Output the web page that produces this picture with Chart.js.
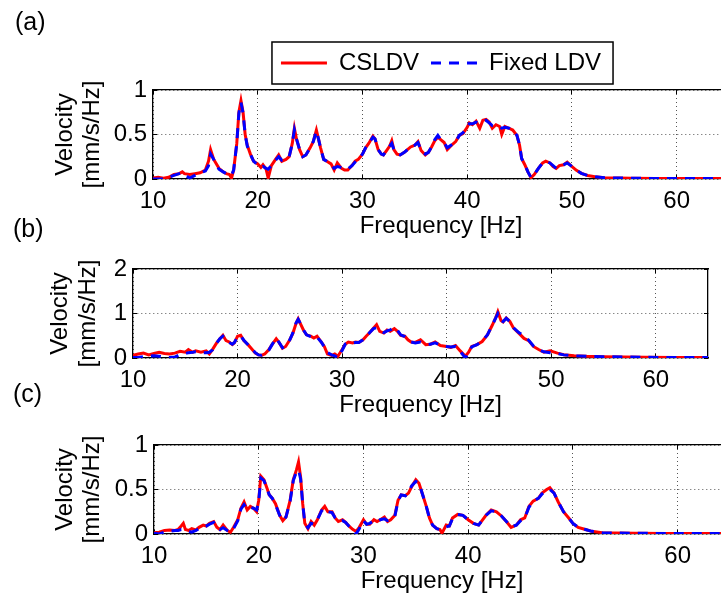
<!DOCTYPE html>
<html>
<head>
<meta charset="utf-8">
<script src="https://cdn.jsdelivr.net/npm/chart.js@4.4.1/dist/chart.umd.min.js"></script>
<style>
  html, body { margin: 0; padding: 0; background: #fff; }
  body { width: 721px; height: 601px; overflow: hidden; position: relative; font-family: 'Liberation Sans', Arial, sans-serif; }
  canvas { position: absolute; left: 0; }
  .tag { position: absolute; font-size: 25px; line-height: 1; color: #000; }
</style>
</head>
<body>
<canvas id="chartA" width="730" height="245" style="top:0px"></canvas>
<canvas id="chartB" width="710" height="185" style="top:240px"></canvas>
<canvas id="chartC" width="731" height="185" style="top:416px"></canvas>
<div class="tag" style="left:15px; top:9px">(a)</div>
<div class="tag" style="left:13px; top:216px">(b)</div>
<div class="tag" style="left:13px; top:381px">(c)</div>
<script>
const FONT = "'Liberation Sans', Arial, Helvetica, sans-serif";
const seriesNames = ['CSLDV', 'Fixed LDV'];
const yTitleLines = ['Velocity', '[mm/s/Hz]'];

// (a)
const freqA = [
    10, 10.5, 11, 11.5, 12, 12.5, 12.8, 13, 13.5, 14,
    14.5, 15, 15.3, 15.5, 15.8, 16, 16.3, 16.7, 17, 17.3,
    17.5, 17.7, 18, 18.2, 18.4, 18.6, 18.8, 19, 19.3, 19.6,
    20, 20.3, 20.5, 20.8, 21, 21.3, 21.7, 22, 22.3, 22.7,
    23, 23.3, 23.5, 23.7, 24, 24.3, 24.6, 25, 25.3, 25.6,
    25.8, 26, 26.3, 26.6, 27, 27.3, 27.6, 28, 28.3, 28.6,
    29, 29.3, 29.6, 30, 30.3, 30.6, 31, 31.2, 31.5, 31.8,
    32, 32.3, 32.6, 32.8, 33, 33.3, 33.6, 34, 34.3, 34.6,
    35, 35.3, 35.6, 36, 36.3, 36.6, 36.9, 37.2, 37.5, 37.8,
    38.1, 38.6, 38.9, 39.25, 39.6, 40, 40.2, 40.5, 40.85, 41.2,
    41.5, 41.8, 42.1, 42.4, 42.75, 43.1, 43.3, 43.6, 44, 44.35,
    44.75, 45, 45.2, 45.5, 45.8, 46.1, 46.4, 46.8, 47.2, 47.5,
    47.9, 48.2, 48.5, 48.8, 49.2, 49.55, 49.9, 50.4, 50.9, 51.5,
    52.2, 53.1, 54.4, 55.7, 58, 61, 65
];
const csldvA = [
    0.01, 0.02, 0.01, 0.02, 0.05, 0.06, 0.08, 0.06, 0.05, 0.06,
    0.07, 0.10, 0.20, 0.33, 0.22, 0.18, 0.12, 0.08, 0.06, 0.05,
    0.01, 0.10, 0.40, 0.75, 0.88, 0.75, 0.50, 0.38, 0.28, 0.20,
    0.17, 0.13, 0.16, 0.11, 0.01, 0.15, 0.22, 0.27, 0.20, 0.22,
    0.25, 0.40, 0.57, 0.45, 0.33, 0.25, 0.27, 0.35, 0.42, 0.55,
    0.45, 0.35, 0.22, 0.20, 0.17, 0.10, 0.18, 0.12, 0.10, 0.10,
    0.15, 0.20, 0.22, 0.28, 0.35, 0.40, 0.48, 0.45, 0.33, 0.28,
    0.27, 0.32, 0.37, 0.43, 0.33, 0.28, 0.27, 0.30, 0.33, 0.36,
    0.38, 0.42, 0.32, 0.27, 0.30, 0.36, 0.43, 0.47, 0.44, 0.41,
    0.33, 0.39, 0.42, 0.49, 0.51, 0.58, 0.63, 0.61, 0.65, 0.57,
    0.66, 0.67, 0.64, 0.57, 0.61, 0.59, 0.50, 0.59, 0.57, 0.55,
    0.49, 0.38, 0.23, 0.16, 0.08, 0.015, 0.05, 0.12, 0.18, 0.20,
    0.18, 0.14, 0.12, 0.15, 0.16, 0.19, 0.15, 0.10, 0.064, 0.04,
    0.026, 0.015, 0.011, 0.008, 0.006, 0.005, 0.005
];
const fixedA = [
    0.00, 0.00, 0.00, 0.02, 0.04, 0.06, 0.07, 0.05, 0.01, 0.04,
    0.07, 0.09, 0.15, 0.28, 0.22, 0.17, 0.11, 0.08, 0.06, 0.05,
    0.04, 0.10, 0.40, 0.74, 0.86, 0.74, 0.50, 0.37, 0.28, 0.20,
    0.16, 0.13, 0.14, 0.12, 0.11, 0.15, 0.21, 0.25, 0.21, 0.22,
    0.25, 0.40, 0.55, 0.45, 0.33, 0.25, 0.27, 0.35, 0.42, 0.54,
    0.45, 0.35, 0.22, 0.20, 0.16, 0.12, 0.14, 0.13, 0.11, 0.11,
    0.15, 0.19, 0.22, 0.28, 0.35, 0.40, 0.47, 0.45, 0.33, 0.28,
    0.27, 0.32, 0.37, 0.40, 0.33, 0.28, 0.27, 0.30, 0.33, 0.37,
    0.38, 0.41, 0.32, 0.28, 0.30, 0.36, 0.44, 0.49, 0.44, 0.41,
    0.35, 0.39, 0.42, 0.49, 0.52, 0.58, 0.62, 0.62, 0.64, 0.63,
    0.65, 0.66, 0.63, 0.60, 0.60, 0.58, 0.57, 0.58, 0.57, 0.55,
    0.49, 0.38, 0.23, 0.16, 0.08, 0.015, 0.05, 0.12, 0.18, 0.20,
    0.18, 0.15, 0.12, 0.14, 0.16, 0.18, 0.15, 0.10, 0.064, 0.04,
    0.026, 0.015, 0.011, 0.008, 0.006, 0.005, 0.005
];

// (b)
const freqB = [
    10, 10.5, 11, 11.5, 12, 12.5, 13, 13.5, 14, 14.5,
    15, 15.3, 15.7, 16, 16.5, 17, 17.3, 17.6, 18, 18.3,
    18.6, 18.9, 19.2, 19.5, 19.7, 20, 20.3, 20.6, 21, 21.3,
    21.7, 22, 22.3, 22.6, 23, 23.3, 23.7, 24, 24.3, 24.6,
    25, 25.3, 25.6, 25.8, 26, 26.3, 26.6, 27, 27.3, 27.6,
    28, 28.3, 28.6, 29, 29.3, 29.6, 30, 30.3, 30.6, 31,
    31.3, 31.6, 32, 32.3, 32.6, 33, 33.3, 33.6, 34, 34.3,
    34.6, 35, 35.3, 35.6, 36, 36.3, 36.6, 37, 37.5, 38,
    38.45, 38.9, 39.4, 40, 40.4, 40.85, 41.3, 41.8, 42.1, 42.4,
    42.9, 43.4, 43.9, 44.35, 44.7, 44.9, 45.2, 45.4, 45.7, 46.05,
    46.4, 46.9, 47.4, 47.85, 48.3, 48.8, 49.3, 49.9, 50.6, 51.2,
    52.2, 53.4, 55, 57, 59, 62, 65
];
const csldvB = [
    0.06, 0.09, 0.11, 0.07, 0.10, 0.13, 0.10, 0.09, 0.11, 0.15,
    0.13, 0.19, 0.13, 0.16, 0.13, 0.16, 0.09, 0.19, 0.34, 0.43,
    0.51, 0.39, 0.36, 0.30, 0.34, 0.49, 0.51, 0.39, 0.30, 0.22,
    0.11, 0.07, 0.06, 0.09, 0.19, 0.30, 0.43, 0.34, 0.22, 0.26,
    0.41, 0.56, 0.78, 0.88, 0.78, 0.63, 0.52, 0.49, 0.45, 0.49,
    0.36, 0.26, 0.09, 0.06, 0.09, 0.04, 0.19, 0.31, 0.36, 0.34,
    0.36, 0.35, 0.41, 0.49, 0.56, 0.67, 0.75, 0.60, 0.56, 0.63,
    0.60, 0.66, 0.60, 0.51, 0.49, 0.41, 0.36, 0.35, 0.41, 0.30,
    0.31, 0.36, 0.28, 0.26, 0.24, 0.28, 0.16, 0.04, 0.13, 0.26,
    0.30, 0.37, 0.52, 0.73, 0.91, 1.04, 0.84, 0.81, 0.90, 0.82,
    0.67, 0.56, 0.44, 0.39, 0.26, 0.19, 0.13, 0.16, 0.11, 0.075,
    0.05, 0.037, 0.03, 0.022, 0.015, 0.01, 0.01
];
const fixedB = [
    0.01, 0.01, 0.03, 0.04, 0.05, 0.04, 0.02, 0.01, 0.02, 0.08,
    0.10, 0.12, 0.13, 0.14, 0.12, 0.12, 0.13, 0.18, 0.33, 0.43,
    0.49, 0.39, 0.35, 0.31, 0.35, 0.48, 0.50, 0.40, 0.30, 0.22,
    0.12, 0.07, 0.06, 0.09, 0.18, 0.30, 0.45, 0.34, 0.23, 0.27,
    0.41, 0.57, 0.79, 0.87, 0.78, 0.63, 0.52, 0.48, 0.45, 0.47,
    0.36, 0.25, 0.12, 0.07, 0.05, 0.00, 0.17, 0.31, 0.35, 0.34,
    0.35, 0.35, 0.41, 0.48, 0.56, 0.66, 0.68, 0.62, 0.57, 0.61,
    0.63, 0.69, 0.62, 0.52, 0.48, 0.42, 0.36, 0.34, 0.36, 0.31,
    0.31, 0.34, 0.29, 0.26, 0.25, 0.26, 0.15, 0.00, 0.12, 0.25,
    0.30, 0.38, 0.52, 0.73, 0.90, 1.00, 0.85, 0.82, 0.89, 0.82,
    0.68, 0.57, 0.50, 0.40, 0.27, 0.19, 0.14, 0.12, 0.10, 0.07,
    0.05, 0.037, 0.03, 0.022, 0.015, 0.01, 0.01
];

// (c)
const freqC = [
    10, 10.5, 11, 11.5, 12, 12.3, 12.6, 12.8, 13, 13.3,
    13.6, 14, 14.3, 14.7, 15, 15.3, 15.7, 16, 16.3, 16.6,
    17, 17.3, 17.6, 18, 18.3, 18.6, 18.9, 19.2, 19.5, 19.8,
    20, 20.2, 20.5, 20.8, 21, 21.3, 21.6, 22, 22.3, 22.6,
    23, 23.3, 23.6, 23.8, 24, 24.2, 24.4, 24.7, 25, 25.3,
    25.6, 26, 26.3, 26.6, 27, 27.3, 27.6, 28, 28.3, 28.6,
    29, 29.3, 29.6, 30, 30.3, 30.6, 31, 31.3, 31.6, 32,
    32.3, 32.6, 33, 33.3, 33.6, 34, 34.3, 34.6, 35, 35.3,
    35.6, 36, 36.3, 36.6, 37, 37.3, 37.5, 37.9, 38.2, 38.5,
    39, 39.5, 40, 40.5, 41, 41.25, 41.7, 42.2, 42.7, 43.2,
    43.65, 44.1, 44.6, 45, 45.4, 45.8, 46.2, 46.7, 47.05, 47.5,
    47.8, 48.2, 48.6, 49.1, 49.6, 50, 50.5, 51.2, 51.8, 52.8,
    54, 56, 59, 62, 65
];
const csldvC = [
    0.015, 0.02, 0.04, 0.045, 0.04, 0.05, 0.09, 0.12, 0.05, 0.04,
    0.06, 0.045, 0.075, 0.10, 0.09, 0.12, 0.14, 0.075, 0.05, 0.10,
    0.04, 0.02, 0.075, 0.16, 0.29, 0.36, 0.27, 0.31, 0.29, 0.25,
    0.38, 0.65, 0.61, 0.51, 0.44, 0.40, 0.34, 0.21, 0.15, 0.19,
    0.38, 0.61, 0.72, 0.81, 0.64, 0.34, 0.12, 0.06, 0.14, 0.10,
    0.16, 0.27, 0.31, 0.25, 0.25, 0.18, 0.14, 0.16, 0.13, 0.09,
    0.05, 0.03, 0.075, 0.16, 0.11, 0.11, 0.16, 0.14, 0.16, 0.19,
    0.14, 0.16, 0.21, 0.38, 0.44, 0.43, 0.46, 0.53, 0.61, 0.57,
    0.46, 0.31, 0.18, 0.10, 0.06, 0.05, 0.01, 0.10, 0.09, 0.18,
    0.22, 0.21, 0.16, 0.12, 0.10, 0.14, 0.21, 0.27, 0.25, 0.20,
    0.14, 0.075, 0.10, 0.16, 0.18, 0.31, 0.37, 0.40, 0.46, 0.50,
    0.52, 0.46, 0.36, 0.25, 0.18, 0.12, 0.075, 0.05, 0.03, 0.015,
    0.011, 0.008, 0.006, 0.005, 0.005
];
const fixedC = [
    0.01, 0.00, 0.02, 0.03, 0.04, 0.04, 0.05, 0.05, 0.04, 0.03,
    0.02, 0.04, 0.06, 0.08, 0.09, 0.11, 0.13, 0.08, 0.05, 0.07,
    0.04, 0.02, 0.06, 0.15, 0.28, 0.33, 0.28, 0.30, 0.29, 0.27,
    0.37, 0.63, 0.60, 0.51, 0.44, 0.40, 0.33, 0.21, 0.15, 0.19,
    0.37, 0.60, 0.70, 0.72, 0.62, 0.34, 0.12, 0.07, 0.12, 0.11,
    0.16, 0.26, 0.29, 0.25, 0.24, 0.18, 0.14, 0.15, 0.13, 0.09,
    0.05, 0.00, 0.06, 0.15, 0.11, 0.12, 0.15, 0.14, 0.16, 0.17,
    0.15, 0.16, 0.20, 0.37, 0.44, 0.43, 0.47, 0.54, 0.59, 0.57,
    0.46, 0.31, 0.18, 0.10, 0.06, 0.05, 0.05, 0.08, 0.09, 0.17,
    0.22, 0.21, 0.16, 0.12, 0.10, 0.14, 0.21, 0.26, 0.25, 0.20,
    0.14, 0.08, 0.10, 0.15, 0.18, 0.30, 0.37, 0.40, 0.45, 0.49,
    0.50, 0.46, 0.36, 0.25, 0.18, 0.12, 0.075, 0.05, 0.03, 0.015,
    0.011, 0.008, 0.006, 0.005, 0.005
];

const xRange = [10, 65];
const xStep = 10;

// box round the legend, like the matlab one
const legendBox = {
    id: 'legendBox',
    afterDraw(chart) {
        const lg = chart.legend;
        if (!lg || !lg.options.display || !lg.legendHitBoxes.length) return;
        const hb = lg.legendHitBoxes;
        const last = hb[hb.length - 1];
        const left = hb[0].left - 9;
        const right = last.left + last.width + 12;
        const mid = hb[0].top + hb[0].height / 2;
        const ctx = chart.ctx;
        ctx.save();
        ctx.strokeStyle = '#000';
        ctx.lineWidth = 1.5;
        ctx.strokeRect(left, mid - 21, right - left, 42);
        ctx.restore();
    }
};

// two line y label; chart.js squeezes it to the axis height, so draw it here
const yTitle = {
    id: 'yTitle',
    afterDraw(chart, args, opts) {
        const ctx = chart.ctx;
        const mid = (chart.chartArea.top + chart.chartArea.bottom) / 2;
        ctx.save();
        ctx.fillStyle = '#000';
        ctx.font = `24px ${FONT}`;
        ctx.textAlign = 'center';
        ctx.textBaseline = 'middle';
        yTitleLines.forEach((line, i) => {
            ctx.save();
            ctx.translate(opts.x[i], mid);
            ctx.rotate(-Math.PI / 2);
            ctx.fillText(line, 0, 0);
            ctx.restore();
        });
        ctx.restore();
    }
};

function axisFont(lh) {
    return { family: FONT, size: 24, lineHeight: lh };
}

// matlab style: ticks point into the box
const TICK_IN = -4;

function makePanel(id, freq, cs, fixed, yMax, yStep, box, showLegend) {
    const edge = { color: '#000', width: 1.3 };
    const innerTicks = { display: true, drawOnChartArea: false, drawTicks: true, tickLength: TICK_IN, tickColor: '#000', tickWidth: 1 };
    return new Chart(document.getElementById(id), {
        type: 'line',
        data: {
            datasets: [{
                label: seriesNames[0],
                data: freq.map((f, i) => ({ x: f, y: cs[i] })),
                borderColor: '#ff0000',
                borderWidth: 3,
                pointRadius: 0,
                tension: 0,
                order: 2
            }, {
                label: seriesNames[1],
                data: freq.map((f, i) => ({ x: f, y: fixed[i] })),
                borderColor: '#0000ff',
                borderWidth: 3,
                borderDash: [10, 8],
                pointRadius: 0,
                tension: 0,
                order: 1
            }]
        },
        options: {
            responsive: false,
            animation: false,
            layout: { padding: { left: box.padL, top: box.padT, right: box.padR, bottom: box.padB } },
            plugins: {
                tooltip: { enabled: false },
                yTitle: { x: box.titleX },
                legend: {
                    display: showLegend,
                    position: 'top',
                    fullSize: false,
                    labels: {
                        usePointStyle: true,
                        pointStyleWidth: 46,
                        padding: 12,
                        color: '#000',
                        font: { family: FONT, size: 24 },
                        generateLabels: (chart) => chart.data.datasets.map((ds, i) => ({
                            text: ds.label,
                            strokeStyle: ds.borderColor,
                            fillStyle: ds.borderColor,
                            lineWidth: ds.borderWidth,
                            lineDash: ds.borderDash || [],
                            pointStyle: 'line',
                            hidden: false,
                            datasetIndex: i
                        }))
                    }
                }
            },
            scales: {
                x: {
                    type: 'linear',
                    min: xRange[0],
                    max: xRange[1],
                    afterBuildTicks: (s) => { s.ticks = s.ticks.filter((t) => t.value % xStep === 0); },
                    afterFit: (s) => { s.height = 61; },
                    ticks: { stepSize: xStep, padding: 8 - TICK_IN, color: '#000', maxRotation: 0, autoSkip: false, font: axisFont(1.2) },
                    grid: { color: '#555', lineWidth: 1, drawTicks: true, tickLength: TICK_IN, tickColor: '#000' },
                    border: { color: '#000', width: 1.3, dash: [1, 3] },
                    title: { display: true, text: 'Frequency [Hz]', color: '#000', font: axisFont(1.125), padding: { top: 0, bottom: 0 } }
                },
                x2: {
                    type: 'linear',
                    position: 'top',
                    min: xRange[0],
                    max: xRange[1],
                    afterBuildTicks: (s) => { s.ticks = s.ticks.filter((t) => t.value % xStep === 0); },
                    afterFit: (s) => { s.height = 5; },
                    ticks: { display: false, stepSize: xStep },
                    grid: innerTicks,
                    border: edge
                },
                y: {
                    min: 0,
                    max: yMax,
                    afterFit: (s) => { s.width = box.yW; },
                    ticks: { stepSize: yStep, padding: 6 - TICK_IN, color: '#000', font: axisFont(1.2), callback: (v) => String(v) },
                    grid: { color: '#555', lineWidth: 1, drawTicks: true, tickLength: TICK_IN, tickColor: '#000' },
                    border: { color: '#000', width: 1.3, dash: [1, 3] }
                },
                y2: {
                    position: 'right',
                    min: 0,
                    max: yMax,
                    afterFit: (s) => { s.width = 0; },
                    ticks: { display: false, stepSize: yStep },
                    grid: innerTicks,
                    border: edge
                }
            }
        },
        plugins: [legendBox, yTitle]
    });
}

makePanel('chartA', freqA, csldvA, fixedA, 1, 0.5, { padL: 50, padT: 39, padR: 1, padB: 5, yW: 103, titleX: [65, 92] }, true);
makePanel('chartB', freqB, csldvB, fixedB, 2, 1, { padL: 45, padT: 24, padR: 2, padB: 6, yW: 88, titleX: [60, 88] }, false);
makePanel('chartC', freqC, csldvC, fixedC, 1, 0.5, { padL: 50, padT: 24, padR: 1, padB: 6, yW: 104, titleX: [65, 92] }, false);
</script>
</body>
</html>
